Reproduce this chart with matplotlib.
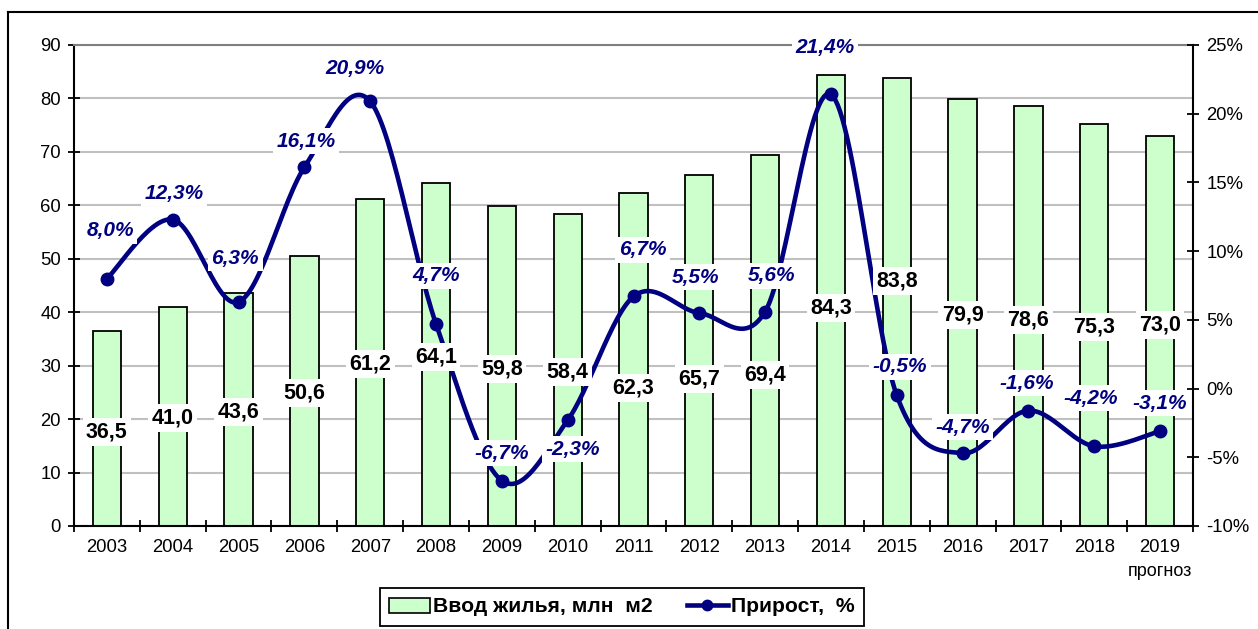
import numpy as np
import matplotlib
matplotlib.use('Agg')
import matplotlib.pyplot as plt
from matplotlib.lines import Line2D
from matplotlib.patches import Patch
from matplotlib.transforms import blended_transform_factory

plt.rcParams['font.family'] = ['Liberation Sans', 'DejaVu Sans']

# ---------------- data ----------------
years = ['2003', '2004', '2005', '2006', '2007', '2008', '2009', '2010', '2011',
         '2012', '2013', '2014', '2015', '2016', '2017', '2018', '2019']
housing = [36.5, 41.0, 43.6, 50.6, 61.2, 64.1, 59.8, 58.4, 62.3,
           65.7, 69.4, 84.3, 83.8, 79.9, 78.6, 75.3, 73.0]
growth = [8.0, 12.3, 6.3, 16.1, 20.9, 4.7, -6.7, -2.3, 6.7,
          5.5, 5.6, 21.4, -0.5, -4.7, -1.6, -4.2, -3.1]
series_names = ['Ввод жилья, млн  м2', 'Прирост,  %']
forecast_note = 'прогноз'

# ---------------- label layout (manually placed in the original) ----------------
bar_label_y = [17.6, 20.2, 21.3, 24.9, 30.3, 31.6, 29.4, 28.8, 25.8,
               27.5, 28.3, 40.8, 45.8, 39.5, 38.5, 37.2, 37.6]
pct_label_y = [11.5, 14.2, 9.5, 18.0, 23.3, 8.2, -4.7, -4.4, 10.1,
               8.1, 8.2, 24.8, 1.6, -2.8, 0.4, -0.7, -1.05]
pct_label_dx = [0.05, 0.02, -0.05, 0.03, -0.23, 0.0, 0.0, 0.08, 0.14,
                -0.06, 0.09, -0.09, 0.05, 0.0, -0.02, -0.05, 0.0]

BAR_COLOR = '#ccffcc'
LINE_COLOR = '#000080'

def fmt(v):
    return f'{v:.1f}'.replace('.', ',')

x = np.arange(len(years))

fig = plt.figure(figsize=(12.58, 6.29), dpi=100)
W, H = 1258, 629
ax = fig.add_axes([74 / W, (H - 526) / H, (1193 - 74) / W, (526 - 45) / H])
ax.set_xlim(-0.5, len(years) - 0.5)
ax.set_ylim(0, 90)
ax.set_yticks(range(0, 91, 10))
ax.yaxis.grid(True, color='#c0c0c0', lw=1.5)
ax.set_axisbelow(True)

ax.bar(x, housing, width=0.43, color=BAR_COLOR, edgecolor='black', lw=1.3, zorder=2)

# x ticks: labels at centres, tick marks at category boundaries
ax.set_xticks(x)
ax.set_xticklabels(years)
ax.set_xticks(np.arange(-0.5, len(years)), minor=True)
ax.tick_params(axis='x', which='major', length=0, pad=9, labelsize=13.3)
ax.tick_params(axis='x', which='minor', length=9, width=1.3, direction='inout')
ax.tick_params(axis='y', which='major', length=9, width=1.3, direction='inout', pad=5, labelsize=13.3)

for s in ['left', 'bottom']:
    ax.spines[s].set_linewidth(1.5)
    ax.spines[s].set_color('black')
ax.spines['top'].set_color('#808080')
ax.spines['top'].set_linewidth(1.5)
ax.spines['right'].set_visible(False)

# secondary axis
ax2 = ax.twinx()
ax2.set_ylim(-10, 25)
ticks2 = list(range(-10, 26, 5))
ax2.set_yticks(ticks2)
ax2.set_yticklabels([f'{t}%' for t in ticks2])
ax2.tick_params(axis='y', length=9, width=1.3, direction='inout', pad=5, labelsize=13.3)
for s in ['left', 'top', 'bottom']:
    ax2.spines[s].set_visible(False)
ax2.spines['right'].set_linewidth(1.5)
ax2.spines['right'].set_color('black')

# smoothed line (Excel-style Bezier through the data points)
pts = np.column_stack([x, growth]).astype(float)
n = len(pts)
tt = np.linspace(0, 1, 30)
curve = []
for i in range(n - 1):
    p0 = pts[max(i - 1, 0)]
    p1 = pts[i]
    p2 = pts[i + 1]
    p3 = pts[min(i + 2, n - 1)]
    c1 = p1 + (p2 - p0) / 6.0
    c2 = p2 - (p3 - p1) / 6.0
    seg = ((1 - tt) ** 3)[:, None] * p1 + (3 * (1 - tt) ** 2 * tt)[:, None] * c1 \
        + (3 * (1 - tt) * tt ** 2)[:, None] * c2 + (tt ** 3)[:, None] * p2
    curve.append(seg if i == 0 else seg[1:])
curve = np.vstack(curve)
ax2.plot(curve[:, 0], curve[:, 1], color=LINE_COLOR, lw=3.3, zorder=3, solid_capstyle='round')
ax2.plot(x, growth, ls='none', marker='o', ms=9, color=LINE_COLOR, zorder=4)

# bar labels
for xi, v, ly in zip(x, housing, bar_label_y):
    ax2.text(xi, ly, fmt(v), transform=ax.transData, ha='center', va='center',
             fontsize=15.5, fontweight='bold', color='black', zorder=6,
             bbox=dict(facecolor='white', edgecolor='none', pad=2.5))

# growth labels
for xi, v, ly, dx in zip(x, growth, pct_label_y, pct_label_dx):
    ax2.text(xi + dx, ly, fmt(v) + '%', ha='center', va='center',
             fontsize=15, fontweight='bold', fontstyle='italic', color=LINE_COLOR, zorder=6,
             bbox=dict(facecolor='white', edgecolor='none', pad=2.5))

# forecast note
trans = blended_transform_factory(ax.transData, fig.transFigure)
ax.text(x[-1], 1 - 572 / H, forecast_note, transform=trans, ha='center', va='center',
        fontsize=13, color='black')

# legend
handles = [Patch(facecolor=BAR_COLOR, edgecolor='black', lw=1.2),
           Line2D([], [], color=LINE_COLOR, lw=3.3, marker='o', ms=7.5)]
leg = fig.legend(handles, series_names, loc='center',
                 bbox_to_anchor=(622 / W, 1 - 607 / H), ncol=2, frameon=True,
                 fancybox=False, edgecolor='black', framealpha=1,
                 prop=dict(weight='bold', size=15.2), handlelength=1.95,
                 handletextpad=0.15, columnspacing=1.6, borderpad=0.45,
                 borderaxespad=0)
leg.get_frame().set_linewidth(1.3)

# outer border of the chart area
fig.add_artist(Line2D([8 / W, 1], [1 - 12 / H, 1 - 12 / H], transform=fig.transFigure,
                      color='black', lw=1.5))
fig.add_artist(Line2D([8 / W, 8 / W], [0, 1 - 12 / H], transform=fig.transFigure,
                      color='black', lw=1.5))

fig.savefig('out.png', dpi=100)
